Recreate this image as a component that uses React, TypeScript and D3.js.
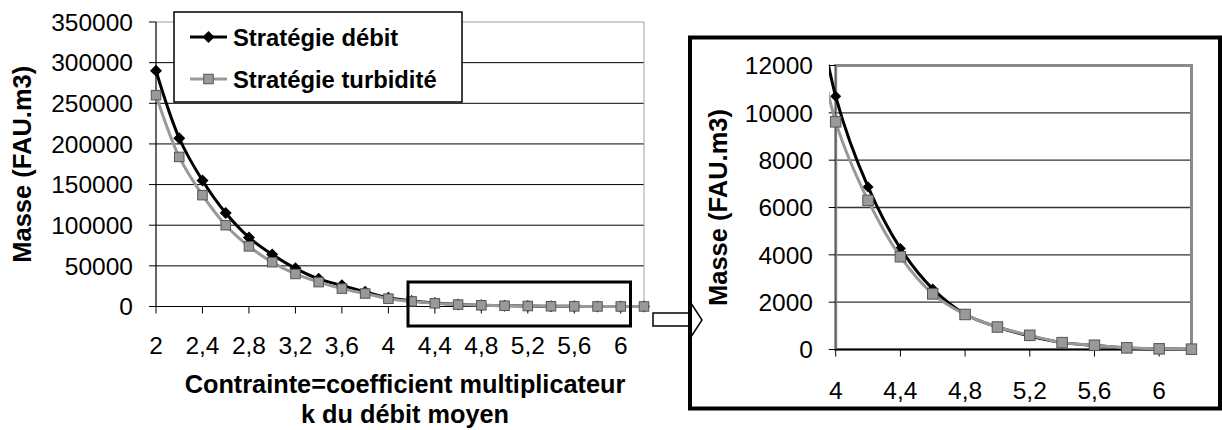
import React from "react";
import * as d3 from "d3";

const kValues = [2, 2.2, 2.4, 2.6, 2.8, 3, 3.2, 3.4, 3.6, 3.8, 4, 4.2, 4.4, 4.6, 4.8, 5, 5.2, 5.4, 5.6, 5.8, 6, 6.2];
const debit = [290000, 207000, 155000, 115000, 85000, 64000, 47000, 34000, 26000, 18000, 10700, 6870, 4270, 2560, 1490, 950, 570, 290, 170, 65, 25, 10];
const turbidite = [260000, 184000, 137000, 100000, 74000, 54500, 40000, 30000, 22000, 16000, 9620, 6300, 3920, 2350, 1480, 950, 600, 290, 180, 70, 28, 14];

const seriesNames = ["Stratégie débit", "Stratégie turbidité"];
const leftYTicks = [0, 50000, 100000, 150000, 200000, 250000, 300000, 350000];
const leftXTicks = [2, 2.4, 2.8, 3.2, 3.6, 4, 4.4, 4.8, 5.2, 5.6, 6];
const leftXLabels = ["2", "2,4", "2,8", "3,2", "3,6", "4", "4,4", "4,8", "5,2", "5,6", "6"];
const rightYTicks = [0, 2000, 4000, 6000, 8000, 10000, 12000];
const rightXTicks = [4, 4.4, 4.8, 5.2, 5.6, 6];
const rightXLabels = ["4", "4,4", "4,8", "5,2", "5,6", "6"];
const yTitle = "Masse (FAU.m3)";
const xTitle1 = "Contrainte=coefficient multiplicateur";
const xTitle2 = "k du débit moyen";

const FONT = "'Liberation Sans', Arial, Helvetica, sans-serif";

type Pt = { k: number; v: number };
const debitPts: Pt[] = kValues.map((k, i) => ({ k, v: debit[i] }));
const turbPts: Pt[] = kValues.map((k, i) => ({ k, v: turbidite[i] }));

function Diamond({ x, y, r }: { x: number; y: number; r: number }) {
  return <path d={`M${x},${y - r}L${x + r},${y}L${x},${y + r}L${x - r},${y}Z`} fill="#000" />;
}
function Square({ x, y, s }: { x: number; y: number; s: number }) {
  return <rect x={x - s / 2} y={y - s / 2} width={s} height={s} fill="#999" stroke="#555" strokeWidth={1} />;
}

export default function App() {
  // Left chart scales
  const xL = d3.scaleLinear().domain([2, 6.2]).range([156, 644]);
  const yL = d3.scaleLinear().domain([0, 350000]).range([306.5, 22]);
  const lineL = d3
    .line<Pt>()
    .x((d) => xL(d.k))
    .y((d) => yL(d.v))
    .curve(d3.curveCatmullRom.alpha(0.5));

  // Right chart scales
  const xR = d3.scaleLinear().domain([4, 6.2]).range([835.7, 1191.5]);
  const yR = d3.scaleLinear().domain([0, 12000]).range([349.5, 65.5]);
  const lineR = d3
    .line<Pt>()
    .x((d) => xR(d.k))
    .y((d) => yR(d.v))
    .curve(d3.curveCatmullRom.alpha(0.5));
  const debR = debitPts.filter((d) => d.k >= 3.79);
  const turR = turbPts.filter((d) => d.k >= 3.79);
  const debRM = debitPts.filter((d) => d.k >= 3.99);
  const turRM = turbPts.filter((d) => d.k >= 3.99);

  const [lx0, lx1] = xL.range();
  const [ly0, ly1] = [yL(0), yL(350000)];
  const [rx0, rx1] = xR.range();
  const [ry0, ry1] = [yR(0), yR(12000)];

  return (
    <svg
      width={1222}
      height={430}
      style={{ position: "absolute", left: 0, top: 0, background: "#fff" }}
      fontFamily={FONT}
    >
      <rect x={0} y={0} width={1222} height={430} fill="#fff" />
      <defs>
        <clipPath id="clipR">
          <rect x={829} y={ry1 - 1} width={rx1 - 829 + 6} height={ry0 - ry1 + 8} />
        </clipPath>
      </defs>

      {/* ===== LEFT CHART ===== */}
      {leftYTicks.filter((t) => t > 0 && t < 350000).map((t) => (
        <line key={"lg" + t} x1={lx0} x2={lx1} y1={yL(t)} y2={yL(t)} stroke="#000" strokeWidth={1} />
      ))}
      <line x1={lx0} x2={lx1} y1={ly1} y2={ly1} stroke="#a0a0a0" strokeWidth={1} />
      <line x1={lx1} x2={lx1} y1={ly1} y2={ly0} stroke="#a0a0a0" strokeWidth={1} />
      {leftYTicks.map((t) => (
        <g key={"lyt" + t}>
          <line x1={lx0 - 7} x2={lx0} y1={yL(t)} y2={yL(t)} stroke="#000" strokeWidth={1} />
          <text x={133} y={yL(t)} dy="0.36em" textAnchor="end" fontSize={24.5} fill="#000">
            {t}
          </text>
        </g>
      ))}
      <line x1={lx0} x2={lx0} y1={ly1} y2={ly0} stroke="#000" strokeWidth={1.2} />
      <line x1={lx0} x2={lx1} y1={ly0} y2={ly0} stroke="#000" strokeWidth={1.2} />
      {leftXTicks.map((t, i) => (
        <g key={"lxt" + t}>
          <line x1={xL(t)} x2={xL(t)} y1={ly0} y2={ly0 + 7} stroke="#000" strokeWidth={1} />
          <text x={xL(t)} y={354} textAnchor="middle" fontSize={24.5} fill="#000">
            {leftXLabels[i]}
          </text>
        </g>
      ))}
      <path d={lineL(debitPts) || ""} fill="none" stroke="#000" strokeWidth={3} />
      {debitPts.map((d) => (
        <Diamond key={"ld" + d.k} x={xL(d.k)} y={yL(d.v)} r={6} />
      ))}
      <path d={lineL(turbPts) || ""} fill="none" stroke="#999" strokeWidth={3} />
      {turbPts.map((d) => (
        <Square key={"ls" + d.k} x={xL(d.k)} y={yL(d.v)} s={9.5} />
      ))}

      {/* zoom box */}
      <rect x={408} y={282} width={222.5} height={44} fill="none" stroke="#000" strokeWidth={3} />

      {/* y title left */}
      <text
        transform={`translate(31,${(ly0 + ly1) / 2}) rotate(-90)`}
        textAnchor="middle"
        fontSize={25.5}
        fontWeight="bold"
        fill="#000"
      >
        {yTitle}
      </text>
      {/* x title */}
      <text x={(lx0 + lx1) / 2 + 5} y={393} textAnchor="middle" fontSize={25.3} fontWeight="bold" fill="#000">
        {xTitle1}
      </text>
      <text x={(lx0 + lx1) / 2 + 5} y={423} textAnchor="middle" fontSize={25.3} fontWeight="bold" fill="#000">
        {xTitle2}
      </text>

      {/* legend */}
      <rect x={174} y={12} width={288} height={90} fill="#fff" stroke="#000" strokeWidth={1.5} />
      <line x1={190} x2={227} y1={37} y2={37} stroke="#000" strokeWidth={3} />
      <Diamond x={208.5} y={37} r={6} />
      <text x={233} y={37} dy="0.36em" fontSize={23.8} fontWeight="bold" fill="#000">
        {seriesNames[0]}
      </text>
      <line x1={190} x2={227} y1={79} y2={79} stroke="#999" strokeWidth={3} />
      <Square x={208.5} y={79} s={9.5} />
      <text x={233} y={79} dy="0.36em" fontSize={23.8} fontWeight="bold" fill="#000">
        {seriesNames[1]}
      </text>

      {/* arrow */}
      <path
        d="M653,313 L689,313 L689,300 L702,320 L689,340 L689,326 L653,326 Z"
        fill="#fff"
        stroke="#000"
        strokeWidth={1.5}
      />

      {/* ===== RIGHT CHART ===== */}
      <rect x={690} y={37.5} width={530} height={371} fill="none" stroke="#000" strokeWidth={4} />
      {rightYTicks.filter((t) => t > 0 && t < 12000).map((t) => (
        <line key={"rg" + t} x1={rx0} x2={rx1} y1={yR(t)} y2={yR(t)} stroke="#333" strokeWidth={1.3} />
      ))}
      <rect x={rx0} y={ry1} width={rx1 - rx0} height={ry0 - ry1} fill="none" stroke="#8a8a8a" strokeWidth={3} />
      <line x1={rx0} x2={rx0} y1={ry1} y2={ry0} stroke="#555" strokeWidth={1} />
      <line x1={rx0} x2={rx1} y1={ry0} y2={ry0} stroke="#000" strokeWidth={1.3} />
      {rightYTicks.map((t) => (
        <g key={"ryt" + t}>
          <line x1={rx0 - 7} x2={rx0} y1={yR(t)} y2={yR(t)} stroke="#000" strokeWidth={1} />
          <text x={813} y={yR(t)} dy="0.36em" textAnchor="end" fontSize={24.5} fill="#000">
            {t}
          </text>
        </g>
      ))}
      {rightXTicks.map((t, i) => (
        <g key={"rxt" + t}>
          <line x1={xR(t)} x2={xR(t)} y1={ry0} y2={ry0 + 7} stroke="#000" strokeWidth={1} />
          <text x={xR(t)} y={399} textAnchor="middle" fontSize={24.5} fill="#000">
            {rightXLabels[i]}
          </text>
        </g>
      ))}
      <g clipPath="url(#clipR)">
        <path d={lineR(debR) || ""} fill="none" stroke="#000" strokeWidth={3} />
        {debRM.map((d) => (
          <Diamond key={"rd" + d.k} x={xR(d.k)} y={yR(d.v)} r={5.5} />
        ))}
        <path d={lineR(turR) || ""} fill="none" stroke="#999" strokeWidth={3} />
        {turRM.map((d) => (
          <Square key={"rs" + d.k} x={xR(d.k)} y={yR(d.v)} s={10.5} />
        ))}
      </g>
      <text
        transform={`translate(727,${(ry0 + ry1) / 2}) rotate(-90)`}
        textAnchor="middle"
        fontSize={25.5}
        fontWeight="bold"
        fill="#000"
      >
        {yTitle}
      </text>
    </svg>
  );
}
